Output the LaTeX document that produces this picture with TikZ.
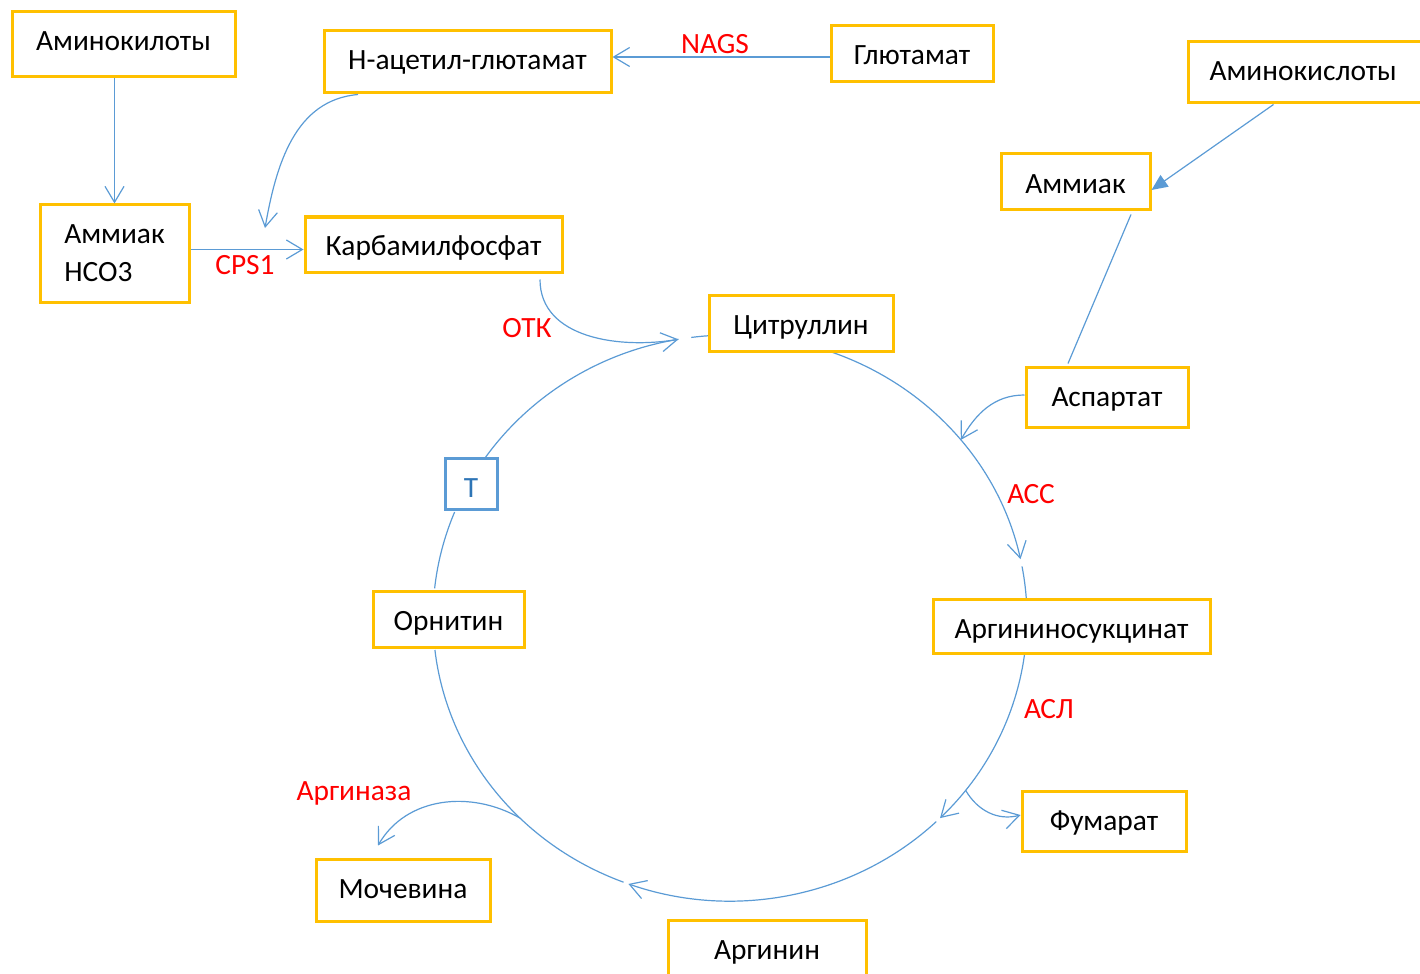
\documentclass[tikz,border=0pt]{standalone}
\usepackage{fontspec}
\setmainfont{Carlito}
\usetikzlibrary{arrows.meta}
\definecolor{boxgold}{HTML}{FFC000}
\definecolor{linkblue}{HTML}{5B9BD5}
\definecolor{tblue}{HTML}{2E75B6}
\definecolor{lblred}{HTML}{FF0000}
\begin{document}
\begin{tikzpicture}[x=0.5pt,y=0.5pt,
  box/.style = {rectangle,draw=boxgold,line width=1.5pt,fill=white,inner sep=0pt,text height=19.5pt,font=\fontsize{14.7}{19}\selectfont},
  tbox/.style = {rectangle,draw=linkblue,line width=1.5pt,fill=white,text=tblue,minimum width=26pt,inner sep=0pt,text height=19.5pt,text depth=6pt,font=\fontsize{14.7}{19}\selectfont},
  lbl/.style = {text=lblred,font=\fontsize{14.7}{17}\selectfont},
  link/.style = {draw=linkblue,line width=0.6pt},
  flow/.style = {link,-{Straight Barb[length=8pt,width=9.5pt]}},
  cyc/.style = {x radius=148.5pt,y radius=141.5pt}]
\useasboundingbox (0,0) rectangle (1420,-974);
\coordinate (c) at (730,-618);
% the cycle
\foreach \a/\b in {146/100, 70/12, -7.5/-45, -46/-110}
    \draw[flow] (c) ++(\a:148.5pt and 141.5pt) arc[cyc,start angle=\a,end angle=\b];
\foreach \a/\b in {97.5/94, 10.5/4, -111/-173.5, 174/158}
    \draw[link] (c) ++(\a:148.5pt and 141.5pt) arc[cyc,start angle=\a,end angle=\b];
\path (c) ++(100:148.5pt and 141.5pt) coordinate (otk);
\path (c) ++(39:148.5pt and 141.5pt) coordinate (aspin);
\path (c) ++(-37.5:148.5pt and 141.5pt) coordinate (fumout);
\path (c) ++(-135:148.5pt and 141.5pt) coordinate (ureaout);
\coordinate (cps) at (265,-228);
% boxes (text sits at the top of each box)
\node[box,minimum width=111.5pt,text depth=13pt] (aminoL) at (123.5,-44.5) {Аминокилоты};
\node[box,minimum width=143.5pt,text depth=11.5pt] (nag) at (467.5,-62) {Н-ацетил-глютамат};
\node[box,minimum width=81pt,text depth=8.5pt] (glu) at (912,-54) {Глютамат};
\node[box,anchor=west,inner xsep=10.5pt,text width=102pt,align=left,text depth=11pt] (aminoR) at (1187,-72.5) {Аминокислоты};
\node[box,minimum width=74.5pt,minimum height=48.5pt,text height=,text depth=,align=left] (amm) at (114.5,-253.5) {Аммиак\\HCO3};
\node[box,minimum width=128.5pt,text depth=8pt] (carb) at (433.5,-244.5) {Карбамилфосфат};
\node[box,minimum width=92pt,text depth=8.5pt] (cit) at (801,-323) {Цитруллин};
\node[box,minimum width=74.5pt,text depth=8.5pt] (ammR) at (1075.5,-182) {Аммиак};
\node[box,minimum width=81pt,text depth=10.5pt] (asp) at (1107,-397) {Аспартат};
\node[tbox] (t) at (471,-483.5) {Т};
\node[box,minimum width=138.5pt,text depth=7.5pt] (argsuc) at (1071.5,-626) {Аргининосукцинат};
\node[box,minimum width=75.5pt,text depth=8.5pt] (orn) at (448.5,-619) {Орнитин};
\node[box,minimum width=87pt,text depth=11.5pt] (urea) at (403,-890) {Мочевина};
\node[box,minimum width=82pt,text depth=10.5pt] (fum) at (1104,-821) {Фумарат};
\node[box,minimum width=99pt,text depth=10.5pt] (arg) at (767,-950) {Аргинин};
% enzymes
\foreach \txt/\x/\y [count=\i] in {NAGS/715/44, CPS1/245/265, ОТК/527/328, АСС/1031/494, АСЛ/1049/709, Аргиназа/354/793}
    \node[lbl] (enz\i) at (\x,-\y) {\txt};
% side paths
\draw[flow] (aminoL.south -| amm.north) -- (amm.north);
\draw[flow] ([yshift=2pt]amm.east) -- ([yshift=-2.5pt]carb.west);
\draw[flow] ([yshift=-1.5pt]glu.west) -- ([yshift=-1.5pt]glu.west -| nag.east);
\draw[flow] ([xshift=-54.75pt]nag.south) to[out=185,in=80] (cps);
\draw[link] ([xshift=53.25pt,yshift=-3pt]carb.south) to[out=-90,in=190] (otk);
\draw[link,-{Triangle[length=8pt,width=7pt]}] ([xshift=-19pt]aminoR.south) -- ([yshift=-4pt]ammR.east);
\draw[link] ([xshift=27.75pt,yshift=-1.5pt]ammR.south) -- ([xshift=-19.5pt,yshift=1pt]asp.north);
\draw[flow] ([yshift=1pt]asp.west) to[out=180,in=60] (aspin);
\draw[flow] (fumout) to[out=-60,in=195] ([yshift=3pt]fum.west);
\draw[flow] (ureaout) to[out=150,in=60] ([xshift=-12.5pt,yshift=6pt]urea.north);
\end{tikzpicture}
\end{document}
